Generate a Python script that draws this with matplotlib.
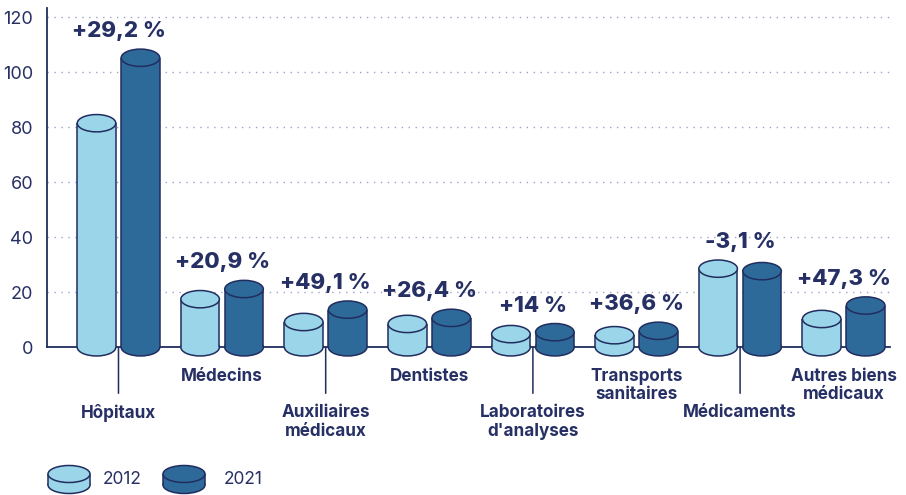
import matplotlib
matplotlib.use("Agg")
import matplotlib.pyplot as plt
from matplotlib.patches import Ellipse, Rectangle

# Données (milliards d'euros)
categories = ["Hôpitaux", "Médecins", "Auxiliaires\nmédicaux", "Dentistes",
              "Laboratoires\nd'analyses", "Transports\nsanitaires",
              "Médicaments", "Autres biens\nmédicaux"]
values_2012 = [81.5, 17.5, 9.2, 8.5, 4.8, 4.4, 28.6, 10.3]
values_2021 = [105.3, 21.2, 13.7, 10.7, 5.5, 6.0, 27.7, 15.2]
changes = ["+29,2 %", "+20,9 %", "+49,1 %", "+26,4 %", "+14 %",
           "+36,6 %", "-3,1 %", "+47,3 %"]
years = ["2012", "2021"]

LIGHT = "#9ad5e9"
DARK = "#2d6a9a"
EDGE = "#212d5e"
TEXT = "#263064"
GRID = "#9ea1cc"

plt.rcParams['font.family'] = ['Inter', 'DejaVu Sans']


def draw_cylinder(ax, xc, base, top, w, eh, fc, lw=1.1, z=3):
    """Cylindre : ellipse du bas, corps, côtés, ellipse du haut"""
    ax.add_patch(Ellipse((xc, base), w, eh, fc=fc, ec=EDGE, lw=lw,
                         zorder=z, clip_on=False))
    ax.add_patch(Rectangle((xc - w / 2, base), w, top - base, fc=fc,
                           ec="none", zorder=z + 0.1, clip_on=False))
    for xs in (xc - w / 2, xc + w / 2):
        ax.plot([xs, xs], [base, top], color=EDGE, lw=lw, zorder=z + 0.2,
                clip_on=False, solid_capstyle="butt")
    ax.add_patch(Ellipse((xc, top), w, eh, fc=fc, ec=EDGE, lw=lw,
                         zorder=z + 0.3, clip_on=False))


fig = plt.figure(figsize=(9.06, 4.95), dpi=100)
ax = fig.add_axes([47 / 906, 147.7 / 495, 843 / 906, 339.3 / 495])

n = len(categories)
offset = 0.212
width = 0.372
ell_h = 6.3

ax.set_xlim(-0.69, 7.447)
ax.set_ylim(0, 123.4)

for i in range(n):
    draw_cylinder(ax, i - offset, 0, values_2012[i], width, ell_h, LIGHT)
    draw_cylinder(ax, i + offset, 0, values_2021[i], width, ell_h, DARK)
    top = max(values_2012[i], values_2021[i]) + ell_h / 2
    ax.annotate(changes[i], xy=(i, top), xytext=(0, 18),
                textcoords="offset pixels", ha="center", va="center",
                fontsize=16, fontweight="heavy", color=TEXT)
    if i % 2 == 0:
        # trait de rappel vers l'étiquette basse
        ax.annotate("", xy=(i, 0), xytext=(0, -46), textcoords="offset pixels",
                    arrowprops=dict(arrowstyle="-", color=EDGE, lw=1.1,
                                    shrinkA=0, shrinkB=0))
        ax.annotate(categories[i], xy=(i, 0), xytext=(0, -57),
                    textcoords="offset pixels", ha="center", va="top",
                    fontsize=12.3, fontweight="bold", color=TEXT,
                    linespacing=1.1, annotation_clip=False)
    else:
        ax.annotate(categories[i], xy=(i, 0), xytext=(0, -21),
                    textcoords="offset pixels", ha="center", va="top",
                    fontsize=12.3, fontweight="bold", color=TEXT,
                    linespacing=1.05, annotation_clip=False)

ax.set_yticks(range(0, 121, 20))
ax.set_xticks([])
ax.tick_params(axis="y", length=0, pad=10, labelsize=13, labelcolor=TEXT)
for t in range(20, 121, 20):
    ax.axhline(t, color=GRID, lw=1, ls=(0, (1, 4)), zorder=1)
for s in ("top", "right"):
    ax.spines[s].set_visible(False)
ax.spines["left"].set_color(EDGE)
ax.spines["bottom"].set_color(EDGE)
ax.spines["left"].set_linewidth(1.3)
ax.spines["bottom"].set_linewidth(1.3)
ax.patch.set_alpha(0)

# Légende (coordonnées pixels de la figure)
lax = fig.add_axes([0, 0, 1, 1], zorder=-1)
lax.set_xlim(0, 906)
lax.set_ylim(495, 0)
lax.axis("off")
for xc, color, lx, label in [(69, LIGHT, 103, years[0]),
                             (184, DARK, 224, years[1])]:
    draw_cylinder(lax, xc, 485, 474, 42, 17, color)
    lax.text(lx, 480, label, ha="left", va="center", fontsize=12.5,
             color=TEXT)

fig.savefig("out.png", dpi=100)
